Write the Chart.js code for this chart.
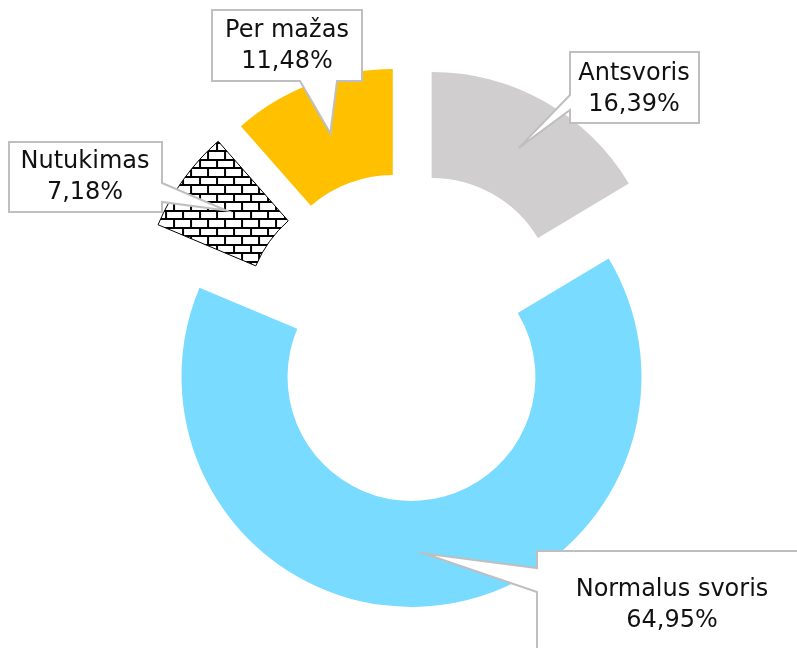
<!DOCTYPE html>
<html>
<head>
<meta charset="utf-8">
<script src="https://cdn.jsdelivr.net/npm/chart.js@4.4.1/dist/chart.umd.min.js"></script>
<style>
  html, body { margin: 0; padding: 0; background: #fff; }
  canvas { display: block; }
</style>
</head>
<body>
<canvas id="chart" width="797" height="648"></canvas>
<script>
// Kūno masės indekso pasiskirstymas
const labels = ['Antsvoris', 'Normalus svoris', 'Nutukimas', 'Per mažas'];
const values = [16.39, 64.95, 7.18, 11.48];
const colors = ['#d0cece', '#78dbff', 'brick', '#ffc000'];
const explode = [46, 35, 48, 46]; // px each slice is pulled out

// callout boxes: box, side where the pointer leaves, pointer base, text centre
const callouts = [
  { x: 570, y: 52, w: 129, h: 71, side: 'left', b1: 95, b2: 110, tx: 634, ty: 89 },
  { x: 537, y: 551, w: 280, h: 140, side: 'left', b1: 568, b2: 592, tx: 672, ty: 605 },
  { x: 9, y: 142, w: 153, h: 70, side: 'right', b1: 183, b2: 202, tx: 85, ty: 177 },
  { x: 212, y: 10, w: 150, h: 71, side: 'bottom', b1: 300, b2: 337, tx: 287, ty: 46 },
];

function brickPattern(ctx) {
  const c = document.createElement('canvas');
  c.width = 17; c.height = 17;
  const g = c.getContext('2d');
  g.fillStyle = '#fff';
  g.fillRect(0, 0, 17, 17);
  g.fillStyle = '#000';
  g.fillRect(0, 0, 17, 2);
  g.fillRect(0, 8, 17, 2);
  g.fillRect(0, 0, 2, 8);
  g.fillRect(8, 8, 2, 9);
  return ctx.createPattern(c, 'repeat');
}

const pct = v => v.toFixed(2).replace('.', ',') + '%';

// draw every arc shifted outward along its mid angle (Excel style "explosion")
const explodePlugin = {
  id: 'explode',
  beforeDatasetDraw(chart, args) {
    const ctx = chart.ctx;
    args.meta.data.forEach((arc, i) => {
      const a = (arc.startAngle + arc.endAngle) / 2;
      ctx.save();
      ctx.translate(Math.cos(a) * explode[i], Math.sin(a) * explode[i]);
      arc.draw(ctx);
      ctx.restore();
    });
    return false;
  }
};

const calloutPlugin = {
  id: 'callouts',
  afterDraw(chart) {
    const ctx = chart.ctx;
    const arcs = chart.getDatasetMeta(0).data;
    callouts.forEach((c, i) => {
      const arc = arcs[i];
      const a = (arc.startAngle + arc.endAngle) / 2;
      const p = arc.tooltipPosition();
      const tip = { x: p.x + Math.cos(a) * explode[i], y: p.y + Math.sin(a) * explode[i] };
      const L = c.x, R = c.x + c.w, T = c.y, B = c.y + c.h;
      let pts;
      if (c.side === 'left') {
        pts = [[L, T], [R, T], [R, B], [L, B], [L, c.b2], [tip.x, tip.y], [L, c.b1]];
      } else if (c.side === 'right') {
        pts = [[L, T], [R, T], [R, c.b1], [tip.x, tip.y], [R, c.b2], [R, B], [L, B]];
      } else {
        pts = [[L, T], [R, T], [R, B], [c.b2, B], [tip.x, tip.y], [c.b1, B], [L, B]];
      }
      ctx.save();
      ctx.beginPath();
      pts.forEach(([x, y], k) => k ? ctx.lineTo(x, y) : ctx.moveTo(x, y));
      ctx.closePath();
      ctx.fillStyle = '#fff';
      ctx.fill();
      ctx.lineWidth = 2;
      ctx.lineJoin = 'miter';
      ctx.strokeStyle = '#bfbfbf';
      ctx.stroke();

      ctx.fillStyle = '#111';
      ctx.font = '24px "DejaVu Sans"';
      ctx.textAlign = 'center';
      ctx.textBaseline = 'middle';
      ctx.fillText(labels[i], c.tx, c.ty - 15.5);
      ctx.fillText(pct(values[i]), c.tx, c.ty + 15.5);
      ctx.restore();
    });
  }
};

const canvas = document.getElementById('chart');
const ctx = canvas.getContext('2d');
const brick = brickPattern(ctx);

new Chart(ctx, {
  type: 'doughnut',
  data: {
    labels,
    datasets: [{
      data: values,
      backgroundColor: colors.map(c => c === 'brick' ? brick : c),
      borderColor: '#000',
      borderWidth: colors.map(c => c === 'brick' ? 1 : 0),
    }]
  },
  options: {
    responsive: false,
    animation: false,
    radius: 230,
    cutout: '53.9%',
    layout: { padding: { left: 21, top: 36, right: 0, bottom: 0 } },
    plugins: {
      legend: { display: false },
      tooltip: { enabled: false }
    },
    events: []
  },
  plugins: [explodePlugin, calloutPlugin]
});
</script>
</body>
</html>
